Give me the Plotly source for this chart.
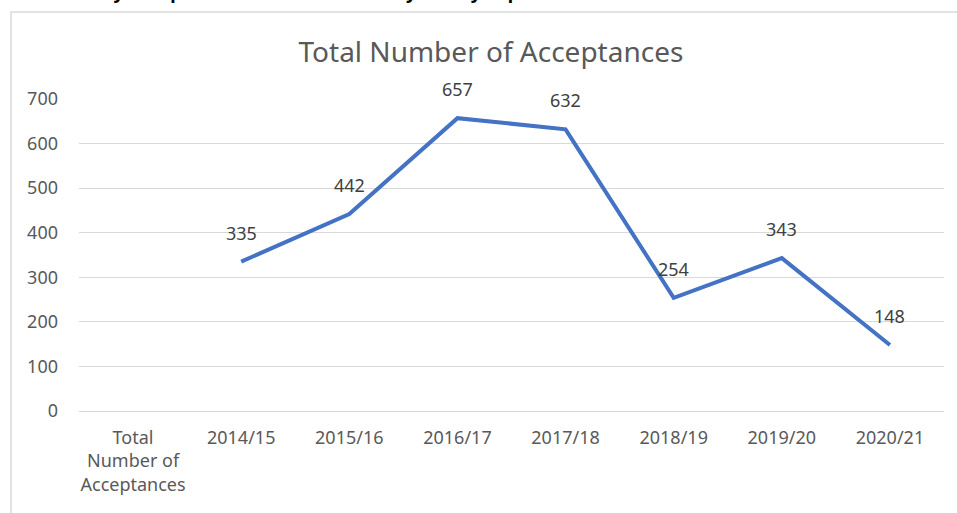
import plotly.graph_objects as go

# chart data
categories = ["Total<br>Number of<br>Acceptances", "2014/15", "2015/16", "2016/17",
              "2017/18", "2018/19", "2019/20", "2020/21"]
acceptances = [None, 335, 442, 657, 632, 254, 343, 148]
y_ticks = [0, 100, 200, 300, 400, 500, 600, 700]

grey = "#595959"
font = "Noto Sans, Open Sans, Arial, sans-serif"

fig = go.Figure()

fig.add_trace(go.Scatter(
    x=categories, y=acceptances,
    mode="lines",
    line=dict(color="#4472C4", width=4),
    hoverinfo="x+y",
    showlegend=False,
))

# data labels above each point
for cat, val in zip(categories, acceptances):
    if val is None:
        continue
    fig.add_annotation(x=cat, y=val, text=str(val), showarrow=False,
                       yshift=29, font=dict(size=18, color="#404040", family=font))

# chart border (cut off at right and bottom, like the screenshot)
fig.add_shape(type="rect", xref="paper", yref="paper",
              x0=-0.0786, y0=-0.40, x1=1.05, y1=1.2788,
              line=dict(color="#D9D9D9", width=1.5), fillcolor="rgba(0,0,0,0)",
              layer="below")

# heading above the chart, mostly cropped off in the original
fig.add_annotation(xref="paper", yref="paper", x=-0.05, y=1.298,
                   xanchor="left", yanchor="bottom", showarrow=False,
                   text="<b>Summary Acceptances for the last seven years by department</b>",
                   font=dict(size=18, color="black", family=font))

fig.update_layout(
    width=957, height=513,
    margin=dict(l=79, r=13, t=99, b=102),
    paper_bgcolor="white", plot_bgcolor="white",
    title=dict(text="Total Number of Acceptances", x=0.513, y=0.899,
               xanchor="center", yanchor="middle", xref="container", yref="container",
               font=dict(size=28, color=grey, family=font)),
    font=dict(family=font, color=grey, size=18),
)

fig.update_xaxes(
    type="category", categoryorder="array", categoryarray=categories,
    range=[-0.5, 7.5],
    showgrid=False, showline=False, zeroline=False, ticks="",
    tickfont=dict(size=18, color=grey, family=font),
    ticklabelstandoff=14,
)
fig.update_yaxes(
    range=[0, 700], tickvals=y_ticks,
    showgrid=True, gridcolor="#D9D9D9", gridwidth=1,
    zeroline=True, zerolinecolor="#D9D9D9", zerolinewidth=1,
    showline=False, ticks="",
    tickfont=dict(size=18, color=grey, family=font),
    ticklabelstandoff=20,
)

# drop the page's default body margin so the figure sits at the window's corner
fig.write_html("out.html", config={"displayModeBar": False},
               post_script="document.body.style.margin='0';")
